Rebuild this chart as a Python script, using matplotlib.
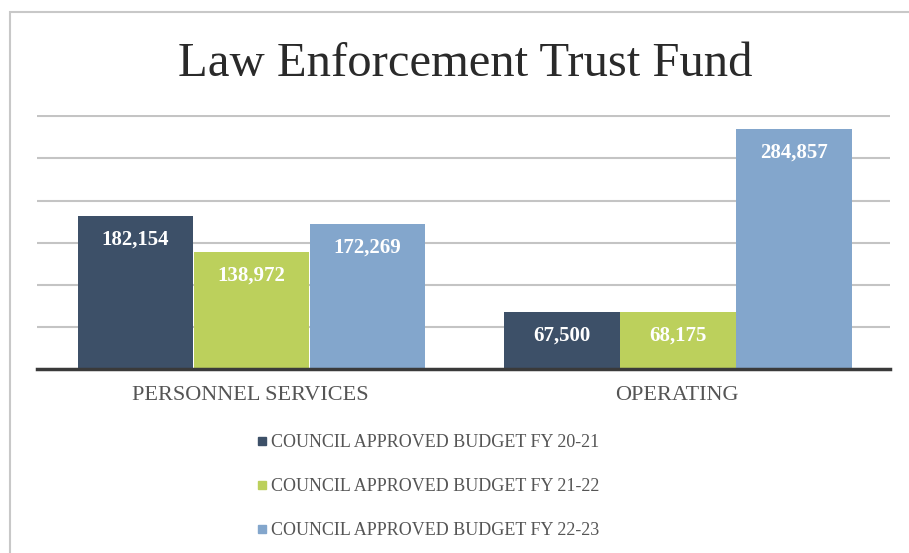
import numpy as np
import matplotlib.pyplot as plt
from matplotlib.lines import Line2D
from matplotlib.patches import Rectangle

categories = ['PERSONNEL SERVICES', 'OPERATING']
series_names = ['COUNCIL APPROVED BUDGET FY 20-21',
                'COUNCIL APPROVED BUDGET FY 21-22',
                'COUNCIL APPROVED BUDGET FY 22-23']
fy_20_21 = [182154, 67500]
fy_21_22 = [138972, 68175]
fy_22_23 = [172269, 284857]
colors = ['#3d5068', '#bcd05c', '#83a6cc']

plt.rcParams['font.family'] = ['Liberation Serif', 'DejaVu Serif']

fig = plt.figure(figsize=(9.09, 5.53), dpi=100)
fig.patch.set_facecolor('white')

# light frame around the chart area
fig.patches.append(Rectangle((10 / 909, -0.1), 1.2, 1 - 12 / 553 + 0.1,
                             transform=fig.transFigure, fill=False,
                             edgecolor='#c8c8c8', linewidth=1.5))

ax = fig.add_axes([37 / 909, 184 / 553, 853 / 909, 254 / 553])
ax.set_facecolor('none')

x = np.arange(len(categories))
width = 0.272
values = [fy_20_21, fy_21_22, fy_22_23]
for i, (vals, c) in enumerate(zip(values, colors)):
    bars = ax.bar(x + (i - 1) * width + 0.003, vals, width * 0.995, color=c, zorder=3)
    for b, v in zip(bars, vals):
        ax.annotate(f'{v:,}', (b.get_x() + b.get_width() / 2, v),
                    xytext=(0, -17), textcoords='offset points',
                    ha='center', va='center', color='white',
                    fontsize=15, fontweight='bold', zorder=4)

ax.set_xlim(-0.5, 1.5)
ax.set_ylim(0, 301500)
ax.set_yticks(np.arange(50000, 300001, 50000))
ax.yaxis.grid(True, color='#c4c4c4', linewidth=1.5, zorder=0)
ax.tick_params(axis='y', left=False, labelleft=False)
ax.tick_params(axis='x', bottom=False, pad=9)
ax.set_xticks(x)
ax.set_xticklabels(categories, fontsize=16, color='#555555')
for s in ['top', 'right', 'left']:
    ax.spines[s].set_visible(False)
ax.spines['bottom'].set_color('#3a3a3a')
ax.spines['bottom'].set_linewidth(2.5)
ax.spines['bottom'].set_zorder(5)

fig.text(465 / 909, 1 - 64 / 553, 'Law Enforcement Trust Fund', ha='center', va='center',
         fontsize=35, color='#2a2a2a')

handles = [Line2D([], [], marker='s', linestyle='none', markersize=6,
                  markerfacecolor=c, markeredgecolor=c) for c in colors]
fig.legend(handles, series_names, loc='upper left',
           bbox_to_anchor=(248 / 909, 1 - 425 / 553), frameon=False,
           fontsize=13, labelcolor='#555555', handlelength=0.6,
           handletextpad=0.2, labelspacing=1.5, borderpad=0)

fig.savefig('out.png', dpi=100, facecolor='white')
